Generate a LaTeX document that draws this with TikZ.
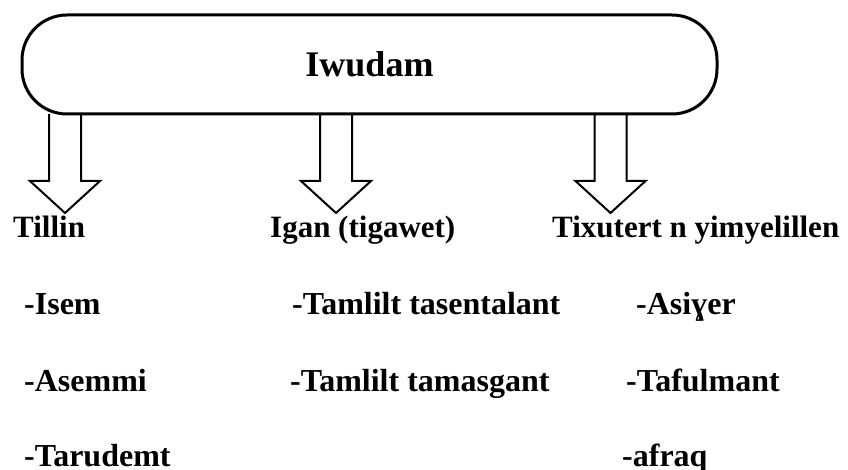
\documentclass[tikz,border=0pt]{standalone}
\usepackage{fontspec}
\setmainfont{Liberation Serif}
\usetikzlibrary{positioning, calc}
\tikzset{
    blockarrow/.pic = {
    \draw[line width=2pt, fill=white, line join=miter] (-16,0) -- (-16,67) -- (-35,67) -- (0,99) -- (35,67) -- (16,67) -- (16,0);
    },
    head/.style={anchor=base west, inner sep=0, font=\bfseries\fontsize{31}{31}\selectfont},
    item/.style={head, font=\bfseries\fontsize{32}{32}\selectfont},
}

\begin{document}
\begin{tikzpicture}[x=1pt, y=-1pt]
    \tikzset{
      every node/.append style={text=black},
      root/.style={draw, line width=3pt, rounded corners=45pt, minimum width=695pt, minimum height=99pt, inner sep=0,
        font=\bfseries\fontsize{36}{36}\selectfont}
    }
    \useasboundingbox (0,0) rectangle (848,470);

    \foreach \x in {65, 336, 610.5}
      \pic at (\x,114) {blockarrow};
    \node[root] (top) at (369.5,64.5) {Iwudam};

    \node[head] (h1) at (13,238) {Tillin};
    \node[head] (h2) at (270,238) {Igan (tigawet)};
    \node[head] (h3) at (552,238) {Tixutert n yimyelillen};

    \node[item] (a1) at (24,314) {-Isem};
    \node[item] (a2) at (24,391) {-Asemmi};
    \node[item] (a3) at (24,466) {-Tarudemt};

    \node[item] (b1) at (292,314) {-Tamlilt tasentalant};
    \node[item] (b2) at (290,391) {-Tamlilt tamasgant};

    \node[item] (c1) at (636,314) {-Asiɣer};
    \node[item] (c2) at (626,391) {-Tafulmant};
    \node[item] (c3) at (622,466) {-afraq};
  \end{tikzpicture}
\end{document}
